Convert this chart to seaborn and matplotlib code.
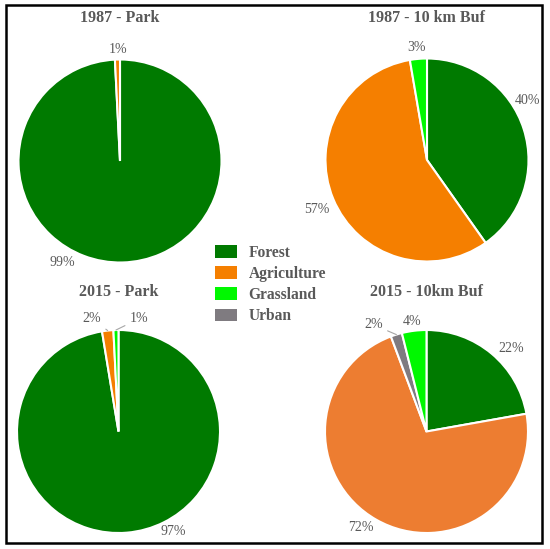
import matplotlib
matplotlib.use("Agg")
import matplotlib.pyplot as plt
import matplotlib.patches as mpatches
import numpy as np
import seaborn as sns

# ---------------------------- DATA ---------------------------------

LEGEND_CLASSES = ["Forest", "Agriculture", "Grassland", "Urban"]

TITLES = ["1987 - Park", "1987 - 10 km Buf", "2015 - Park", "2015 - 10km Buf"]

# wedges in clockwise order from 12 o'clock
CLASSES_1987_PARK = ["Forest", "Agriculture"]
VALUES_1987_PARK = [99.2, 0.8]

CLASSES_1987_BUF = ["Forest", "Agriculture", "Grassland"]
VALUES_1987_BUF = [40.2, 57.1, 2.7]

CLASSES_2015_PARK = ["Forest", "Agriculture", "Grassland"]
VALUES_2015_PARK = [97.4, 1.8, 0.8]

CLASSES_2015_BUF = ["Forest", "Agriculture", "Urban", "Grassland"]
VALUES_2015_BUF = [22.2, 72.1, 1.8, 3.9]

# ---------------------------- STYLE --------------------------------

COLORS = {
    "Forest": "#007a00",
    "Agriculture": "#f57f00",
    "Grassland": "#00f800",
    "Urban": "#7f7b80",
}
AGRI_2015_BUF = "#ed7d31"
TEXT_GRAY = "#595959"
SERIF = ["Liberation Serif", "DejaVu Serif"]

W, H = 550, 549
R_PX = 101.5
HALF_PX = 150

# pie centres (px) and label spots in radius units, one per wedge
CENTERS = [(120, 161), (427, 160), (118.5, 431.5), (426.5, 431.5)]
TITLE_Y = [18, 18, 292, 292]
LABEL_POS = [
    [(-0.57, -1.00), (-0.02, 1.10)],
    [(0.99, 0.59), (-1.09, -0.49), (-0.10, 1.11)],
    [(0.54, -0.99), (-0.26, 1.11), (0.20, 1.11)],
    [(0.83, 0.82), (-0.65, -0.95), (-0.52, 1.05), (-0.14, 1.08)],
]
LEADER = [
    [False, False],
    [False, False, False],
    [False, True, True],
    [False, False, True, False],
]


def fx(px):
    return px / W


def fy(py):
    return 1 - py / H


def draw_pie(fig, idx, classes, values, colors):
    cx, cy = CENTERS[idx]
    ax = fig.add_axes([fx(cx - HALF_PX), fy(cy + HALF_PX),
                       2 * HALF_PX / W, 2 * HALF_PX / H])
    wedges, _ = ax.pie(values, colors=colors, startangle=90, counterclock=False,
                       radius=1.0,
                       wedgeprops=dict(edgecolor="white", linewidth=1.5))
    lim = HALF_PX / R_PX
    ax.set_xlim(-lim, lim)
    ax.set_ylim(-lim, lim)
    ax.axis("off")

    for w, v, pos, lead in zip(wedges, values, LABEL_POS[idx], LEADER[idx]):
        txt = f"{v:.0f}%"
        if lead:
            mid = np.deg2rad((w.theta1 + w.theta2) / 2)
            pt = (np.cos(mid) * 1.0, np.sin(mid) * 1.0)
            ax.annotate(txt, xy=pt, xytext=pos, ha="center", va="center",
                        fontsize=10, family=SERIF, color=TEXT_GRAY,
                        arrowprops=dict(arrowstyle="-", color="#a6a6a6",
                                        lw=0.8, shrinkA=1, shrinkB=0))
        else:
            ax.text(pos[0], pos[1], txt, ha="center", va="center",
                    fontsize=10, family=SERIF, color=TEXT_GRAY)

    fig.text(fx(cx), fy(TITLE_Y[idx]), TITLES[idx], ha="center", va="center",
             fontsize=11.5, fontweight="bold", family=SERIF, color=TEXT_GRAY)
    return ax


def main():
    sns.set_theme(style="white")
    fig = plt.figure(figsize=(W / 100, H / 100), dpi=100)
    fig.patch.set_facecolor("white")

    draw_pie(fig, 0, CLASSES_1987_PARK, VALUES_1987_PARK,
             [COLORS[c] for c in CLASSES_1987_PARK])
    draw_pie(fig, 1, CLASSES_1987_BUF, VALUES_1987_BUF,
             [COLORS[c] for c in CLASSES_1987_BUF])
    draw_pie(fig, 2, CLASSES_2015_PARK, VALUES_2015_PARK,
             [COLORS[c] for c in CLASSES_2015_PARK])
    buf_colors = [COLORS[c] for c in CLASSES_2015_BUF]
    buf_colors[1] = AGRI_2015_BUF
    draw_pie(fig, 3, CLASSES_2015_BUF, VALUES_2015_BUF, buf_colors)

    handles = [mpatches.Patch(facecolor=COLORS[c], edgecolor="none")
               for c in LEGEND_CLASSES]
    leg = fig.legend(handles, LEGEND_CLASSES, loc="upper left",
                     bbox_to_anchor=(fx(215), fy(245)), frameon=False,
                     borderpad=0, borderaxespad=0, handlelength=1.4,
                     handleheight=0.9, handletextpad=0.75, labelspacing=0.33,
                     prop=dict(family=SERIF, weight="bold", size=11.2))
    for t in leg.get_texts():
        t.set_color(TEXT_GRAY)

    # outer frame
    fig.add_artist(mpatches.Rectangle((fx(6), fy(543)), fx(542) - fx(6),
                                      fy(5) - fy(543), transform=fig.transFigure,
                                      fill=False, edgecolor="black", linewidth=1.8))

    fig.savefig("out.png", dpi=100)


if __name__ == "__main__":
    main()
